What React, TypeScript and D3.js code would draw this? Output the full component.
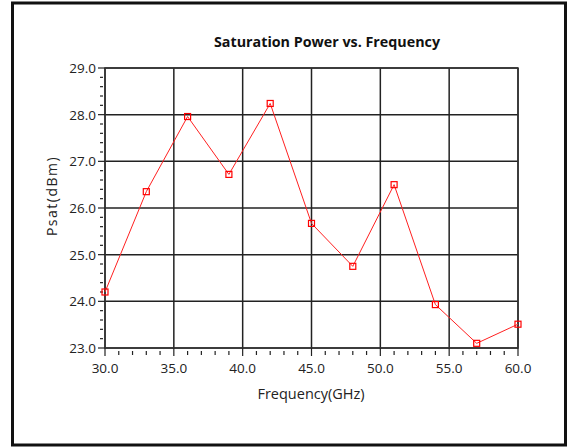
import React from "react";
import * as d3 from "d3";

const freqs = [30, 33, 36, 39, 42, 45, 48, 51, 54, 57, 60];
const psat = [24.2, 26.35, 27.96, 26.72, 28.24, 25.67, 24.75, 26.5, 23.93, 23.1, 23.51];
const xTicks = [30, 35, 40, 45, 50, 55, 60];
const yTicks = [23, 24, 25, 26, 27, 28, 29];
const title = "Saturation Power vs. Frequency";
const xLabel = "Frequency(GHz)";
const yLabel = "Psat(dBm)";

const W = 569;
const H = 447;
const L = 105, R = 518, T = 68, B = 348;
const font = "'Open Sans', 'DejaVu Sans', sans-serif";

export default function App() {
  const x = d3.scaleLinear().domain([30, 60]).range([L, R]);
  const y = d3.scaleLinear().domain([23, 29]).range([B, T]);
  const line = d3.line<number>().x((_, i) => x(freqs[i])).y((v) => y(v));
  const xMinor = d3.range(30, 60.001, 1).filter((v) => Math.round(v) % 5 !== 0);
  const yMinor = d3.range(23, 29.001, 0.2).filter((v) => Math.abs(v - Math.round(v)) > 1e-6);
  return (
    <svg width={W} height={H} style={{ position: "absolute", left: 0, top: 0, background: "#fff" }}>
      <rect x={12.5} y={3} width={553} height={442} fill="#fff" stroke="#111" strokeWidth={3} />
      <text x={327} y={47} textAnchor="middle" fontFamily={font} fontWeight="bold" fontSize={14.3} fill="#111">{title}</text>
      {xTicks.map((t) => (
        <line key={"gx" + t} x1={x(t)} x2={x(t)} y1={T} y2={B} stroke="#222" strokeWidth={1.5} />
      ))}
      {yTicks.map((t) => (
        <line key={"gy" + t} x1={L} x2={R} y1={y(t)} y2={y(t)} stroke="#222" strokeWidth={1.5} />
      ))}
      <rect x={L} y={T} width={R - L} height={B - T} fill="none" stroke="#333" strokeWidth={1.5} />
      {yTicks.map((t) => (
        <g key={"yt" + t}>
          <line x1={L - 7} x2={L} y1={y(t)} y2={y(t)} stroke="#222" strokeWidth={1.2} />
          <text x={L - 9} y={y(t) + 5} textAnchor="end" fontFamily={font} fontSize={13.5} fill="#222">{t.toFixed(1)}</text>
        </g>
      ))}
      {yMinor.map((t, i) => (
        <line key={"ym" + i} x1={L - 5} x2={L - 2} y1={y(t)} y2={y(t)} stroke="#222" strokeWidth={1.2} />
      ))}
      {xTicks.map((t) => (
        <g key={"xt" + t}>
          <line x1={x(t)} x2={x(t)} y1={B} y2={B + 8} stroke="#222" strokeWidth={1.2} />
          <text x={x(t)} y={B + 25} textAnchor="middle" fontFamily={font} fontSize={13.5} fill="#222">{t.toFixed(1)}</text>
        </g>
      ))}
      {xMinor.map((t, i) => (
        <line key={"xm" + i} x1={x(t)} x2={x(t)} y1={B + 3} y2={B + 7} stroke="#222" strokeWidth={1.2} />
      ))}
      <text x={311} y={399} textAnchor="middle" fontFamily={font} fontSize={14.5} fill="#222">{xLabel}</text>
      <text transform={`translate(57,196) rotate(-90)`} textAnchor="middle" fontFamily={font} fontSize={14} letterSpacing={1.5} fill="#222">{yLabel}</text>
      <path d={line(psat) || ""} fill="none" stroke="#ff2020" strokeWidth={1} />
      {psat.map((v, i) => (
        <rect key={"m" + i} x={x(freqs[i]) - 3} y={y(v) - 3} width={6} height={6} fill="none" stroke="#ff0000" strokeWidth={1.2} />
      ))}
    </svg>
  );
}
